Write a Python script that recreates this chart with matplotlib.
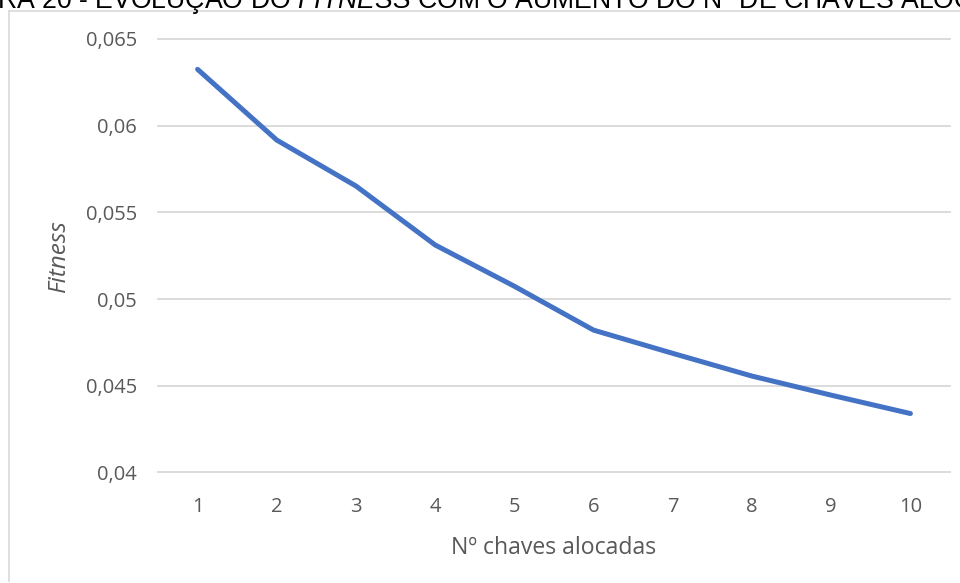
import matplotlib
matplotlib.use("Agg")
import matplotlib.pyplot as plt
from matplotlib.ticker import FuncFormatter, FixedLocator
from matplotlib.lines import Line2D

# Data
chaves = [1, 2, 3, 4, 5, 6, 7, 8, 9, 10]
fitness = [0.06325, 0.05917, 0.05652, 0.05312, 0.05074,
           0.04821, 0.04687, 0.04556, 0.04446, 0.04340]
y_ticks = [0.04, 0.045, 0.05, 0.055, 0.06, 0.065]

title = r"RA 20 - EVOLUÇÃO DO$\ \mathit{FITNESS}$ COM O AUMENTO DO Nº DE CHAVES ALOCADAS"
x_label = "Nº chaves alocadas"
y_label = "Fitness"

plt.rcParams["mathtext.fontset"] = "custom"
plt.rcParams["mathtext.rm"] = "Liberation Sans"
plt.rcParams["mathtext.it"] = "Liberation Sans:italic"

W, H = 960, 583
fig = plt.figure(figsize=(W / 100, H / 100), dpi=100)
fig.patch.set_facecolor("white")

# Plot area in pixel coordinates
left, right, top, bottom = 158, 950, 39, 472.5
ax = fig.add_axes([left / W, 1 - bottom / H, (right - left) / W, (bottom - top) / H])

text_col = "#595959"
grid_col = "#D9D9D9"
line_col = "#4472C4"
fnt = "Open Sans"

ax.plot(chaves, fitness, color=line_col, linewidth=3.6,
        solid_capstyle="round", solid_joinstyle="round", zorder=3)

ax.set_xlim(0.5, 10.5)
ax.set_ylim(y_ticks[0], y_ticks[-1])
ax.yaxis.set_major_locator(FixedLocator(y_ticks))
ax.xaxis.set_major_locator(FixedLocator(chaves))
ax.yaxis.set_major_formatter(FuncFormatter(lambda v, p: f"{v:g}".replace(".", ",")))
ax.xaxis.set_major_formatter(FuncFormatter(lambda v, p: f"{int(round(v))}"))

for s in ax.spines.values():
    s.set_visible(False)
ax.tick_params(axis="both", length=0, labelsize=14.5, labelcolor=text_col)
ax.tick_params(axis="y", pad=15)
ax.tick_params(axis="x", pad=18)
for lab in ax.get_xticklabels() + ax.get_yticklabels():
    lab.set_fontfamily(fnt)

ax.grid(axis="y", color=grid_col, linewidth=1.3)
ax.grid(axis="x", visible=False)
ax.set_axisbelow(True)
for gl in ax.get_ygridlines():
    gl.set_clip_on(False)

ax.set_xlabel(x_label, fontsize=16.6, color=text_col, family=fnt, labelpad=13)
ax.set_ylabel(y_label, fontsize=17.5, color=text_col, family=fnt,
              style="italic", labelpad=10)
ax.yaxis.set_label_coords(-(left - 71) / (right - left), 0.5)

# Chart frame (extends past the right edge)
frame_kw = dict(color=grid_col, linewidth=1.2, transform=fig.transFigure)
fig.add_artist(Line2D([9 / W, 9 / W], [1 - 11 / H, 1 - 581 / H], **frame_kw))
fig.add_artist(Line2D([9 / W, 1.0], [1 - 11 / H, 1 - 11 / H], **frame_kw))

# Caption, clipped at the top edge
fig.text(-3 / W, 1 - 8 / H, title, fontsize=19.2, family="Liberation Sans",
         color="black", ha="left", va="baseline")

fig.savefig("out.png", dpi=100, facecolor="white")
